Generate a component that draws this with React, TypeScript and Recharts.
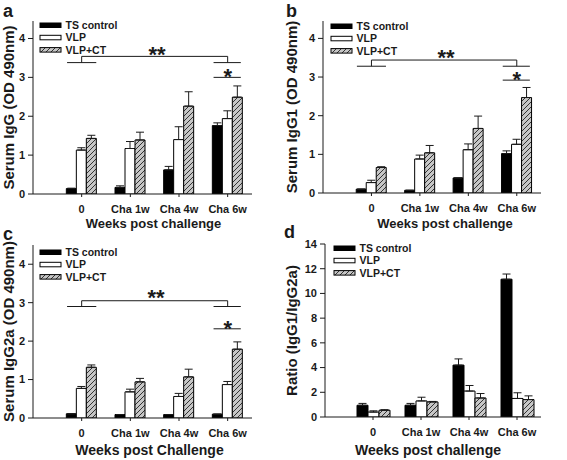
import React from 'react';
import { BarChart, Bar, XAxis, YAxis, ErrorBar, ReferenceLine, ReferenceDot, Legend } from 'recharts';

const FONT = '"Liberation Sans", Arial, Helvetica, sans-serif';
const INK = '#1a1a1a';

// ---------- data ----------
const categories = ['0', 'Cha 1w', 'Cha 4w', 'Cha 6w'];
const seriesNames = ['TS control', 'VLP', 'VLP+CT'];

// a: Serum IgG
const iggTS = [0.14, 0.17, 0.62, 1.76];
const iggTSErr = [0.01, 0.04, 0.09, 0.07];
const iggVLP = [1.13, 1.17, 1.4, 1.94];
const iggVLPErr = [0.06, 0.18, 0.33, 0.2];
const iggCT = [1.43, 1.39, 2.26, 2.49];
const iggCTErr = [0.08, 0.2, 0.37, 0.29];

// b: Serum IgG1
const igg1TS = [0.1, 0.07, 0.39, 1.02];
const igg1TSErr = [0.0, 0.0, 0.0, 0.07];
const igg1VLP = [0.27, 0.88, 1.12, 1.26];
const igg1VLPErr = [0.06, 0.1, 0.15, 0.13];
const igg1CT = [0.66, 1.04, 1.67, 2.47];
const igg1CTErr = [0.02, 0.19, 0.32, 0.26];

// c: Serum IgG2a
const igg2aTS = [0.11, 0.09, 0.09, 0.1];
const igg2aTSErr = [0.0, 0.0, 0.0, 0.0];
const igg2aVLP = [0.77, 0.68, 0.56, 0.87];
const igg2aVLPErr = [0.05, 0.07, 0.08, 0.08];
const igg2aCT = [1.32, 0.94, 1.07, 1.79];
const igg2aCTErr = [0.06, 0.09, 0.2, 0.19];

// d: Ratio IgG1/IgG2a
const ratioTS = [0.95, 0.95, 4.2, 11.15];
const ratioTSErr = [0.15, 0.15, 0.5, 0.42];
const ratioVLP = [0.4, 1.3, 2.1, 1.5];
const ratioVLPErr = [0.1, 0.3, 0.45, 0.46];
const ratioCT = [0.55, 1.22, 1.54, 1.41];
const ratioCTErr = [0.04, 0.04, 0.36, 0.3];

// significance brackets (y values in axis units)
const bracketA = { top: 3.54, base: 3.38, starLine: 3.0, starY: 3.15, dStarX: 1.55, dStarY: 3.72 };
const bracketB = { top: 3.44, base: 3.28, starLine: 2.92, starY: 3.07, dStarX: 1.54, dStarY: 3.64 };
const bracketC = { top: 3.05, base: 2.9, starLine: 2.32, starY: 2.45, dStarX: 1.53, dStarY: 3.25 };

const odTicks = [0, 1, 2, 3, 4];
const ratioTicks = [0, 2, 4, 6, 8, 10, 12, 14];

function buildRows(ts: number[], tsE: number[], vlp: number[], vlpE: number[], ct: number[], ctE: number[]) {
  return categories.map((cat, i) => ({
    cat,
    pos: i,
    ts: ts[i],
    tsErr: [0, tsE[i]],
    vlp: vlp[i],
    vlpErr: [0, vlpE[i]],
    ct: ct[i],
    ctErr: [0, ctE[i]],
  }));
}

const rowsA = buildRows(iggTS, iggTSErr, iggVLP, iggVLPErr, iggCT, iggCTErr);
const rowsB = buildRows(igg1TS, igg1TSErr, igg1VLP, igg1VLPErr, igg1CT, igg1CTErr);
const rowsC = buildRows(igg2aTS, igg2aTSErr, igg2aVLP, igg2aVLPErr, igg2aCT, igg2aCTErr);
const rowsD = buildRows(ratioTS, ratioTSErr, ratioVLP, ratioVLPErr, ratioCT, ratioCTErr);

// ---------- components ----------
const HatchDef = ({ id }: { id: string }) => (
  <defs>
    <pattern id={id} patternUnits="userSpaceOnUse" width={5} height={5}>
      <rect width={5} height={5} fill="#c6c6c6" />
      <path d="M-1,1 l2,-2 M0,5 l5,-5 M4,6 l2,-2" stroke="#222" strokeWidth={0.9} />
    </pattern>
  </defs>
);

const LegendSwatches = ({ hatchId }: { hatchId: string }) => {
  const fills = ['#000', '#fff', `url(#${hatchId})`];
  return (
    <svg width={150} height={46} style={{ display: 'block', overflow: 'visible' }}>
      {seriesNames.map((name, i) => {
        const y = 4 + i * 12.3;
        return (
          <g key={name}>
            <rect x={1} y={y} width={21} height={4.5} fill={fills[i]} stroke="#000" strokeWidth={1} />
            <text x={26.5} y={y + 6} fontSize={10.5} fontWeight={700} fill={INK} fontFamily={FONT}>
              {name}
            </text>
          </g>
        );
      })}
    </svg>
  );
};

const starShape = (txt: string) => (props: any) => (
  <text
    x={props.cx}
    y={props.cy}
    dy="0.56em"
    textAnchor="middle"
    fontSize={22}
    fontWeight={700}
    fill={INK}
    fontFamily={FONT}
  >
    {txt}
  </text>
);

function bracketElements(b: any, key: string) {
  const seg = (x1: number, y1: number, x2: number, y2: number, k: string) => (
    <ReferenceLine
      key={key + k}
      xAxisId="n"
      segment={[{ x: x1, y: y1 }, { x: x2, y: y2 }]}
      stroke={INK}
      strokeWidth={1}
      ifOverflow="visible"
    />
  );
  return [
    seg(0, b.top, 3, b.top, 'top'),
    seg(0, b.top, 0, b.base, 'l'),
    seg(3, b.top, 3, b.base, 'r'),
    seg(-0.3, b.base, 0.3, b.base, 'lb'),
    seg(2.71, b.base, 3.27, b.base, 'rb'),
    seg(2.71, b.starLine, 3.27, b.starLine, 'sl'),
    <ReferenceDot key={key + 'ds'} xAxisId="n" x={b.dStarX} y={b.dStarY} r={1} ifOverflow="visible" shape={starShape('**')} />,
    <ReferenceDot key={key + 's'} xAxisId="n" x={3} y={b.starY} r={1} ifOverflow="visible" shape={starShape('*')} />,
  ];
}

type PanelProps = {
  left: number;
  top: number;
  width: number;
  height: number;
  margin: { top: number; right: number; bottom: number; left: number };
  yWidth: number;
  xHeight: number;
  rows: any[];
  yDomain: [number, number];
  yTicks: number[];
  yLabel: string;
  xLabel: string;
  yLabelOffset: number;
  xLabelOffset: number;
  xLabelDx: number;
  xLabelSize: number;
  barSize: number;
  hatchId: string;
  legendLeft: number;
  legendTop: number;
  bracket?: any;
};

function Panel(p: PanelProps) {
  const plotW = p.width - p.margin.right - p.margin.left - p.yWidth;
  const pad = plotW / 9;
  const fills = ['#000', '#fff', `url(#${p.hatchId})`];
  const keys = ['ts', 'vlp', 'ct'];
  return (
    <div style={{ position: 'absolute', left: p.left, top: p.top }}>
      <BarChart width={p.width} height={p.height} data={p.rows} margin={p.margin} barGap={0} barSize={p.barSize}>
        <HatchDef id={p.hatchId} />
        <XAxis
          dataKey="cat"
          padding={{ left: pad, right: 0 }}
          height={p.xHeight}
          tickSize={3}
          tickMargin={8}
          interval={0}
          axisLine={{ stroke: INK }}
          tickLine={{ stroke: INK }}
          tick={{ fontSize: 11, fontWeight: 700, fill: INK, fontFamily: FONT }}
          label={{
            value: p.xLabel,
            position: 'insideBottom',
            offset: p.xLabelOffset,
            dx: p.xLabelDx,
            style: { fontSize: p.xLabelSize, fontWeight: 700, fill: INK, fontFamily: FONT },
          }}
        />
        <XAxis xAxisId="n" type="number" dataKey="pos" domain={[-1, 3.5]} hide allowDataOverflow />
        <YAxis
          width={p.yWidth}
          domain={p.yDomain}
          ticks={p.yTicks}
          allowDataOverflow
          tickSize={5}
          tickMargin={3}
          axisLine={{ stroke: INK }}
          tickLine={{ stroke: INK }}
          tick={{ fontSize: 11, fontWeight: 700, fill: INK, fontFamily: FONT }}
          label={{
            value: p.yLabel,
            angle: -90,
            position: 'insideLeft',
            offset: p.yLabelOffset,
            style: { textAnchor: 'middle', fontSize: 15, fontWeight: 700, fill: INK, fontFamily: FONT },
          }}
        />
        <Legend
          layout="horizontal"
          verticalAlign="middle"
          align="center"
          wrapperStyle={{ left: p.legendLeft, top: p.legendTop - 2, width: 150, height: 46, lineHeight: 0, overflow: 'visible' }}
          content={() => <LegendSwatches hatchId={p.hatchId} />}
        />
        {keys.map((k, i) => (
          <Bar key={k} dataKey={k} name={seriesNames[i]} fill={fills[i]} stroke="#000" strokeWidth={1} isAnimationActive={false}>
            <ErrorBar dataKey={k + 'Err'} width={4} stroke={INK} strokeWidth={1} direction="y" />
          </Bar>
        ))}
        {p.bracket ? bracketElements(p.bracket, p.hatchId) : null}
      </BarChart>
    </div>
  );
}

export default function App() {
  return (
    <div
      style={{
        position: 'absolute',
        left: 0,
        top: 0,
        width: 567,
        height: 460,
        background: '#fff',
        fontFamily: FONT,
        overflow: 'hidden',
      }}
    >
      <Panel
        left={0}
        top={0}
        width={283}
        height={240}
        margin={{ top: 21, right: 31, bottom: 0, left: 0 }}
        yWidth={33}
        xHeight={46}
        rows={rowsA}
        yDomain={[0, 4.45]}
        yTicks={odTicks}
        yLabel="Serum IgG (OD 490nm)"
        xLabel="Weeks post challenge"
        yLabelOffset={9}
        xLabelOffset={12}
        xLabelDx={11}
        xLabelSize={13}
        barSize={10}
        hatchId="hatchA"
        legendLeft={39}
        legendTop={21}
        bracket={bracketA}
      />
      <Panel
        left={283}
        top={0}
        width={284}
        height={240}
        margin={{ top: 21, right: 26, bottom: 0, left: 0 }}
        yWidth={40}
        xHeight={47}
        rows={rowsB}
        yDomain={[0, 4.45]}
        yTicks={odTicks}
        yLabel="Serum IgG1 (OD 490nm)"
        xLabel="Weeks post challenge"
        yLabelOffset={9}
        xLabelOffset={12}
        xLabelDx={13}
        xLabelSize={13}
        barSize={10}
        hatchId="hatchB"
        legendLeft={47}
        legendTop={22}
        bracket={bracketB}
      />
      <Panel
        left={0}
        top={230}
        width={283}
        height={230}
        margin={{ top: 15, right: 31, bottom: 0, left: 0 }}
        yWidth={33}
        xHeight={42}
        rows={rowsC}
        yDomain={[0, 4.5]}
        yTicks={odTicks}
        yLabel="Serum IgG2a (OD 490nm)"
        xLabel="Weeks post Challenge"
        yLabelOffset={9}
        xLabelOffset={5}
        xLabelDx={7}
        xLabelSize={14}
        barSize={10}
        hatchId="hatchC"
        legendLeft={39}
        legendTop={17.5}
        bracket={bracketC}
      />
      <Panel
        left={283}
        top={230}
        width={284}
        height={230}
        margin={{ top: 14, right: 26, bottom: 0, left: 0 }}
        yWidth={42}
        xHeight={43}
        rows={rowsD}
        yDomain={[0, 14]}
        yTicks={ratioTicks}
        yLabel="Ratio (IgG1/IgG2a)"
        xLabel="Weeks post challenge"
        yLabelOffset={9}
        xLabelOffset={5}
        xLabelDx={-5}
        xLabelSize={14}
        barSize={11}
        hatchId="hatchD"
        legendLeft={50}
        legendTop={13.5}
      />
      <svg
        width={567}
        height={460}
        style={{ position: 'absolute', left: 0, top: 0, pointerEvents: 'none' }}
      >
        <text x={3} y={17} fontSize={18} fontWeight={700} fill={INK} fontFamily={FONT}>a</text>
        <text x={286} y={17} fontSize={18} fontWeight={700} fill={INK} fontFamily={FONT}>b</text>
        <text x={3} y={240} fontSize={18} fontWeight={700} fill={INK} fontFamily={FONT}>c</text>
        <text x={284} y={238} fontSize={18} fontWeight={700} fill={INK} fontFamily={FONT}>d</text>
      </svg>
    </div>
  );
}
